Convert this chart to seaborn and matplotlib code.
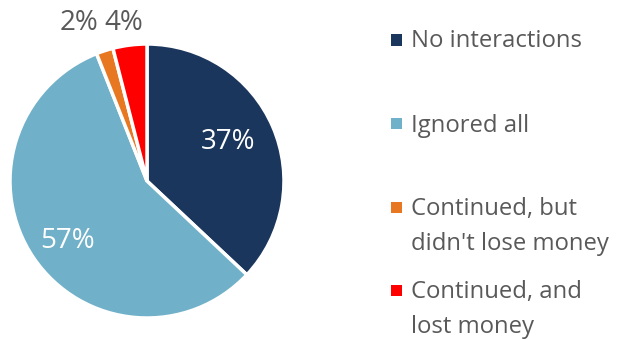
import matplotlib
matplotlib.use("Agg")
import matplotlib.pyplot as plt
from matplotlib.patches import Rectangle
import seaborn as sns

# Outcome shares (%) and series colours
categories = ["No interactions", "Ignored all",
              "Continued, but\ndidn't lose money", "Continued, and\nlost money"]
shares = [37, 57, 2, 4]
colors = ["#1B365D", "#70B1C9", "#E87722", "#FF0000"]

sns.set_theme(style="white")
plt.rcParams["font.family"] = ["Open Sans", "DejaVu Sans"]

W, H = 618, 339
fig = plt.figure(figsize=(W / 100, H / 100), dpi=100)
fig.patch.set_facecolor("white")

# pie axes: centre (147,181) px, radius 137 px
cx, cy, r = 147, 181, 137
ax = fig.add_axes([(cx - r) / W, (H - cy - r) / H, 2 * r / W, 2 * r / H])
wedges, _ = ax.pie(shares, colors=colors, startangle=90, counterclock=False,
                   wedgeprops=dict(edgecolor="white", linewidth=2.5))
ax.set_xlim(-1, 1)
ax.set_ylim(-1, 1)
ax.set_aspect("auto")
ax.axis("off")

# value labels (inside for large slices, above the pie for small ones)
label_pos = [(0.59, 0.234), (-0.577, -0.487), (-0.496, 1.102), (-0.168, 1.102)]
label_col = ["white", "white", "#595959", "#595959"]
for v, (x, y), c in zip(shares, label_pos, label_col):
    ax.text(x, y, f"{v}%", ha="center", va="baseline", fontsize=20,
            color=c, clip_on=False)

# legend drawn as squares + text (one text per line, baselines in px)
marker_y = [40, 123, 207.5, 290.5]
line_base = [[47], [132], [215, 250], [298, 333]]
for cat, col, my, bases in zip(categories, colors, marker_y, line_base):
    fig.patches.append(Rectangle((391 / W, (H - my - 5.5) / H), 11 / W, 11 / H,
                                 transform=fig.transFigure, facecolor=col,
                                 edgecolor="none"))
    for line, b in zip(cat.split("\n"), bases):
        fig.text(411 / W, (H - b) / H, line, ha="left", va="baseline",
                 fontsize=17.2, color="#595959")

fig.savefig("out.png", dpi=100, facecolor="white")
